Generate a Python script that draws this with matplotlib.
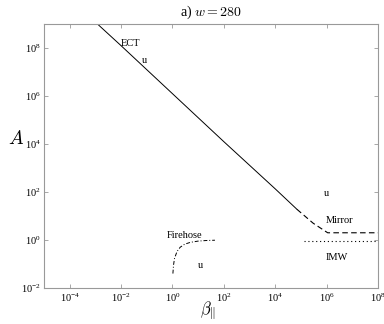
import matplotlib
matplotlib.use("Agg")
import matplotlib.pyplot as plt
import numpy as np

# Data
ect_beta = [1e-3, 1e-2, 1e-1, 1e0, 1e1, 1e2, 1e3, 1e4, 7e4]
ect_A = [1.2e9, 1.25e8, 1.25e7, 1.25e6, 1.25e5, 1.25e4, 1.3e3, 1.35e2, 19.0]

mirror_beta = [7e4, 3e5, 1.1e6, 1e8]
mirror_A = [19.0, 5.0, 2.0, 2.0]

fire_beta = [1.04, 1.1, 1.2, 1.5, 2.0, 3.0, 5.0, 10.0, 20.0, 45.0]
fire_A = [0.04, 0.09, 0.17, 0.33, 0.5, 0.67, 0.8, 0.9, 0.95, 0.98]

imw_beta = [1.3e5, 1e8]
imw_A = [0.9, 0.9]

xticks = [1e-4, 1e-2, 1e0, 1e2, 1e4, 1e6, 1e8]
yticks = [1e-2, 1e0, 1e2, 1e4, 1e6, 1e8]

plt.rcParams['font.family'] = ['Liberation Serif', 'DejaVu Serif']
plt.rcParams['mathtext.fontset'] = 'cm'

fig = plt.figure(figsize=(3.84, 3.24), dpi=100)
ax = fig.add_axes([44/384, 36/324, 334/384, 264/324])

ax.plot(ect_beta, ect_A, color='black', lw=0.7)
ax.plot(mirror_beta, mirror_A, color='black', lw=0.8, dashes=(5, 3))
ax.plot(fire_beta, fire_A, color='black', lw=0.7, dashes=(4, 2, 1, 2))
ax.plot(imw_beta, imw_A, color='black', lw=0.8, dashes=(1, 2.5))

ax.set_xscale('log')
ax.set_yscale('log')
ax.set_xlim(1e-5, 1e8)
ax.set_ylim(1e-2, 1e9)
ax.set_xticks(xticks)
ax.set_yticks(yticks)
ax.minorticks_off()
ax.tick_params(which='both', direction='in', top=True, right=True, length=3,
               width=0.6, color='#999999', labelsize=7.5, pad=2.5)
for s in ax.spines.values():
    s.set_color('#999999')
    s.set_linewidth(0.8)

fs = 7.5
ax.text(1e-2, 1.6e8, 'ECT', fontsize=fs, ha='left', va='center')
ax.text(0.08, 3e7, 'u', fontsize=fs, ha='center', va='center')
ax.text(1e6, 90, 'u', fontsize=fs, ha='center', va='center')
ax.text(9e5, 6.8, 'Mirror', fontsize=fs, ha='left', va='center')
ax.text(0.6, 1.6, 'Firehose', fontsize=fs, ha='left', va='center')
ax.text(12, 0.083, 'u', fontsize=fs, ha='center', va='center')
ax.text(9e5, 0.18, 'IMW', fontsize=fs, ha='left', va='center')

ax.set_title(r'a) $w = 280$', fontsize=10, pad=6)
ax.set_xlabel(r'$\beta_\|$', fontsize=12, va='top')
ax.xaxis.set_label_coords(0.49, -0.045)
ax.set_ylabel(r'$A$', fontsize=14, rotation=0)
ax.yaxis.set_label_coords(-0.085, 0.53)

fig.savefig('out.png', dpi=100)
